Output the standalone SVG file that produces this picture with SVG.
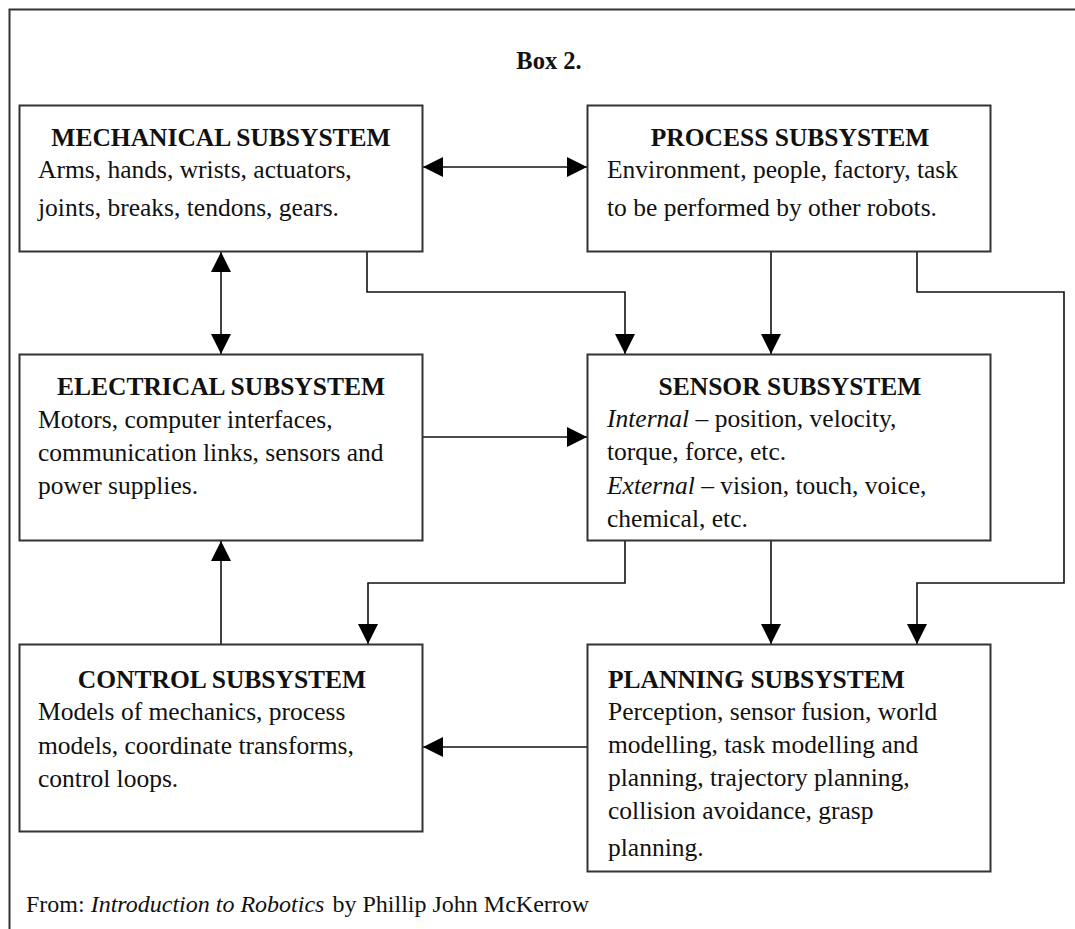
<svg xmlns="http://www.w3.org/2000/svg" width="1075" height="929" viewBox="0 0 1075 929">
  <style>
    .frame { fill: none; stroke: #333; stroke-width: 2; }
    .box { fill: #fff; stroke: #333; stroke-width: 2; }
    .wire { fill: none; stroke: #111; stroke-width: 1.6; }
    .title { font-family: "Liberation Serif", "Times New Roman", serif; font-weight: bold; font-size: 25.5px; fill: #111; }
    .body { font-family: "Liberation Serif", "Times New Roman", serif; font-size: 25.5px; fill: #111; }
    .mid { text-anchor: middle; }
    .it { font-style: italic; }
  </style>
  <defs>
    <marker id="head" markerUnits="userSpaceOnUse" markerWidth="20" markerHeight="20" refX="20" refY="10" orient="auto-start-reverse">
      <path d="M0,0 L20,10 L0,20 Z" fill="#000"/>
    </marker>
  </defs>

  <rect width="1075" height="929" fill="#fff"/>

  <!-- outer frame: open on the right and at the bottom -->
  <path class="frame" d="M1075,9.5 H9.5 V929"/>

  <text class="title mid" x="549" y="69" style="font-size:24.5px">Box 2.</text>

  <g id="connectors">
    <!-- mechanical <-> process -->
    <line class="wire" x1="423" y1="167" x2="587" y2="167" marker-start="url(#head)" marker-end="url(#head)"/>
    <!-- mechanical <-> electrical -->
    <line class="wire" x1="221" y1="252" x2="221" y2="354" marker-start="url(#head)" marker-end="url(#head)"/>
    <!-- mechanical -> sensor -->
    <polyline class="wire" points="367,252 367,292 625,292 625,354" marker-end="url(#head)"/>
    <!-- process -> sensor -->
    <line class="wire" x1="771" y1="252" x2="771" y2="354" marker-end="url(#head)"/>
    <!-- process -> planning (outside loop) -->
    <polyline class="wire" points="917,252 917,292 1064,292 1064,583 917,583 917,644" marker-end="url(#head)"/>
    <!-- electrical -> sensor -->
    <line class="wire" x1="423" y1="437" x2="587" y2="437" marker-end="url(#head)"/>
    <!-- sensor -> control -->
    <polyline class="wire" points="625,541 625,583 368,583 368,644" marker-end="url(#head)"/>
    <!-- sensor -> planning -->
    <line class="wire" x1="771" y1="541" x2="771" y2="644" marker-end="url(#head)"/>
    <!-- control -> electrical -->
    <line class="wire" x1="221" y1="644" x2="221" y2="541" marker-end="url(#head)"/>
    <!-- planning -> control -->
    <line class="wire" x1="587" y1="747" x2="423" y2="747" marker-end="url(#head)"/>
  </g>

  <g id="mechanical">
    <rect class="box" x="19.5" y="105.5" width="403" height="146"/>
    <text class="title mid" x="221" y="146">MECHANICAL SUBSYSTEM</text>
    <text class="body" x="38" y="178">Arms, hands, wrists, actuators,</text>
    <text class="body" x="38" y="216">joints, breaks, tendons, gears.</text>
  </g>

  <g id="process">
    <rect class="box" x="587.5" y="105.5" width="403" height="146"/>
    <text class="title mid" x="790" y="146">PROCESS SUBSYSTEM</text>
    <text class="body" x="607" y="178">Environment, people, factory, task</text>
    <text class="body" x="607" y="216">to be performed by other robots.</text>
  </g>

  <g id="electrical">
    <rect class="box" x="19.5" y="354.5" width="403" height="186"/>
    <text class="title mid" x="221" y="395">ELECTRICAL SUBSYSTEM</text>
    <text class="body" x="38" y="428">Motors, computer interfaces,</text>
    <text class="body" x="38" y="461">communication links, sensors and</text>
    <text class="body" x="38" y="494">power supplies.</text>
  </g>

  <g id="sensor">
    <rect class="box" x="587.5" y="354.5" width="403" height="186"/>
    <text class="title mid" x="790" y="395">SENSOR SUBSYSTEM</text>
    <text class="body" x="607" y="427"><tspan class="it">Internal</tspan> – position, velocity,</text>
    <text class="body" x="607" y="460">torque, force, etc.</text>
    <text class="body" x="607" y="494"><tspan class="it">External</tspan> – vision, touch, voice,</text>
    <text class="body" x="607" y="527">chemical, etc.</text>
  </g>

  <g id="control">
    <rect class="box" x="19.5" y="644.5" width="403" height="187"/>
    <text class="title mid" x="222" y="688">CONTROL SUBSYSTEM</text>
    <text class="body" x="38" y="720">Models of mechanics, process</text>
    <text class="body" x="38" y="754">models, coordinate transforms,</text>
    <text class="body" x="38" y="787">control loops.</text>
  </g>

  <g id="planning">
    <rect class="box" x="587.5" y="644.5" width="403" height="227"/>
    <text class="title" x="608" y="688">PLANNING SUBSYSTEM</text>
    <text class="body" x="608" y="720">Perception, sensor fusion, world</text>
    <text class="body" x="608" y="753">modelling, task modelling and</text>
    <text class="body" x="608" y="786">planning, trajectory planning,</text>
    <text class="body" x="608" y="819">collision avoidance, grasp</text>
    <text class="body" x="608" y="856">planning.</text>
  </g>

  <text class="body" x="26" y="912" style="font-size:24px">From: <tspan class="it">Introduction to Robotics</tspan><tspan dx="8">by Phillip John McKerrow</tspan></text>
</svg>
